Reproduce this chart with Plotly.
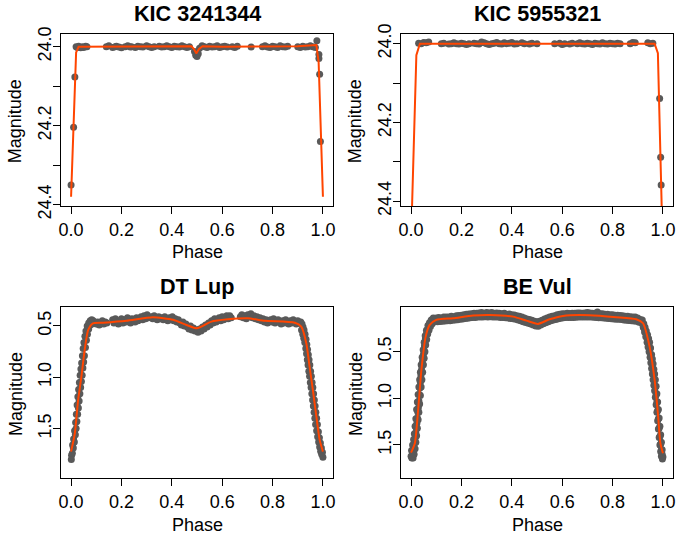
import plotly.graph_objects as go

FONT = "Liberation Sans, Arial, Helvetica, sans-serif"
PT_COLOR = "#595959"
FIT_COLOR = "#FF4500"
W, H = 678, 538

titles = ["KIC 3241344", "KIC 5955321", "DT Lup", "BE Vul"]
x_ticks = [0.0, 0.2, 0.4, 0.6, 0.8, 1.0]
x_ticktext = ["0.0", "0.2", "0.4", "0.6", "0.8", "1.0"]

# ---------------- KIC 3241344 ----------------
kic1_phase = [0.000, 0.010, 0.015, 0.020, 0.025, 0.030, 0.038, 0.045, 0.050, 0.058, 0.063,
              0.140, 0.150, 0.165, 0.175, 0.180, 0.190, 0.200, 0.215, 0.225, 0.235,
              0.240, 0.255, 0.265, 0.275, 0.285, 0.300, 0.310, 0.320, 0.330, 0.350,
              0.360, 0.370, 0.380, 0.390, 0.400, 0.410, 0.420, 0.430, 0.440, 0.450,
              0.460, 0.470,
              0.490, 0.495, 0.500, 0.505, 0.510,
              0.520, 0.530, 0.540, 0.550, 0.560, 0.570, 0.580, 0.590, 0.600, 0.610,
              0.620, 0.640, 0.650, 0.660,
              0.715,
              0.760, 0.770, 0.780, 0.790, 0.800, 0.810, 0.820, 0.830, 0.840, 0.850, 0.860,
              0.900, 0.910, 0.920, 0.930, 0.940, 0.950, 0.960, 0.970,
              0.976, 0.984, 0.984, 0.987, 0.990]
kic1_mag = [24.350, 24.204, 24.077, 24.000, 24.002, 23.999, 24.003, 24.000, 24.002, 23.999, 24.000,
            24.000, 23.998, 24.002, 24.000, 23.999, 24.001, 24.003, 24.000, 23.998, 24.001,
            24.000, 24.002, 23.999, 24.000, 24.001, 23.998, 24.000, 24.002, 24.000, 23.999,
            24.001, 24.000, 23.998, 24.000, 24.002, 23.999, 24.000, 24.001, 23.998, 24.000,
            24.002, 24.000,
            24.012, 24.022, 24.025, 24.018, 24.004,
            23.998, 24.000, 24.002, 23.999, 24.001, 24.000, 23.998, 24.002, 24.000, 23.999,
            24.001, 24.000, 24.002, 23.999,
            24.001,
            24.000, 23.998, 24.001, 24.002, 23.999, 24.000, 24.002, 23.998, 24.000, 24.001, 23.999,
            24.000, 24.002, 23.999, 24.001, 24.000, 23.998, 24.000, 24.002,
            23.985, 24.020, 24.030, 24.070, 24.240]
kic1_fit_phase = [0.000, 0.020, 0.030, 0.100, 0.200, 0.300, 0.400, 0.478, 0.488, 0.497,
                  0.508, 0.522, 0.600, 0.700, 0.800, 0.900, 0.974, 0.983, 1.000]
kic1_fit_mag = [24.380, 24.015, 24.000, 24.000, 24.000, 24.000, 23.999, 23.999, 24.006, 24.017,
                24.006, 23.999, 24.000, 24.000, 24.000, 23.999, 23.996, 24.040, 24.380]

# ---------------- KIC 5955321 ----------------
kic2_phase = [0.030, 0.040, 0.050, 0.060, 0.070,
              0.120, 0.130, 0.150, 0.160, 0.170, 0.180, 0.190, 0.200, 0.210, 0.220,
              0.230, 0.250, 0.260, 0.270, 0.280, 0.290, 0.300, 0.310, 0.320, 0.330,
              0.340, 0.350, 0.360, 0.370, 0.380, 0.390, 0.400, 0.410, 0.420, 0.440,
              0.450, 0.470, 0.480, 0.500,
              0.570, 0.590, 0.600, 0.610, 0.630, 0.640, 0.660, 0.670, 0.680, 0.690,
              0.700, 0.710, 0.720, 0.730, 0.740, 0.750, 0.760, 0.770, 0.780, 0.790,
              0.800, 0.810, 0.820, 0.830,
              0.870, 0.880, 0.890,
              0.940, 0.950, 0.960,
              0.987, 0.991, 0.993]
kic2_mag = [23.999, 24.000, 23.997, 23.998, 23.996,
            24.000, 23.999, 24.001, 24.000, 23.998, 24.000, 24.001, 23.999, 24.000, 24.002,
            24.000, 23.999, 24.000, 24.001, 23.996, 23.998, 24.000, 24.002, 24.000, 23.999,
            23.997, 24.000, 24.001, 23.998, 24.000, 23.999, 23.997, 24.001, 24.000, 23.998,
            24.000, 24.001, 23.999, 24.000,
            24.000, 23.999, 24.002, 24.000, 24.001, 23.999, 24.000, 23.998, 24.000, 24.001,
            23.999, 24.000, 24.002, 23.999, 24.000, 24.001, 23.998, 24.000, 24.001, 23.999,
            24.000, 24.001, 23.999, 24.000,
            24.000, 23.997, 23.998,
            23.998, 24.000, 23.999,
            24.139, 24.288, 24.359]
kic2_fit_phase = [0.000, 0.021, 0.035, 0.200, 0.500, 0.800, 0.967, 0.980, 1.000]
kic2_fit_mag = [24.500, 24.029, 24.000, 24.000, 24.000, 24.000, 24.000, 24.024, 24.540]

# ---------------- DT Lup ----------------
dt_ing_a_phase = [0.002, 0.006, 0.010, 0.014, 0.018, 0.021, 0.024, 0.027, 0.030, 0.033,
                  0.036, 0.039, 0.042, 0.045, 0.048, 0.051, 0.055, 0.059, 0.064, 0.070,
                  0.076, 0.082]
dt_ing_a_mag = [1.76, 1.66, 1.60, 1.52, 1.44, 1.36, 1.27, 1.19, 1.12, 1.05,
                0.98, 0.92, 0.86, 0.79, 0.72, 0.66, 0.60, 0.55, 0.50, 0.47,
                0.45, 0.44]
dt_ing_b_phase = [0.001, 0.005, 0.009, 0.013, 0.017, 0.020, 0.023, 0.026, 0.029, 0.032,
                  0.035, 0.038, 0.041, 0.044, 0.047, 0.050, 0.053, 0.057, 0.061, 0.065,
                  0.070, 0.076, 0.083]
dt_ing_b_mag = [1.80, 1.74, 1.69, 1.63, 1.56, 1.50, 1.43, 1.36, 1.30, 1.23,
                1.16, 1.10, 1.04, 0.98, 0.91, 0.85, 0.79, 0.71, 0.64, 0.58,
                0.53, 0.49, 0.48]
dt_flat_phase = [0.088, 0.094, 0.100, 0.106, 0.112, 0.118, 0.124, 0.130, 0.136, 0.142,
                 0.165, 0.170, 0.176, 0.182, 0.188, 0.194, 0.200, 0.206, 0.212, 0.218,
                 0.224, 0.230, 0.236, 0.242, 0.248, 0.254, 0.260, 0.266, 0.272, 0.278,
                 0.284, 0.290, 0.296, 0.302, 0.306, 0.318, 0.324, 0.330, 0.336, 0.342,
                 0.348, 0.354, 0.360, 0.366, 0.372, 0.378, 0.384, 0.390, 0.396, 0.402,
                 0.408, 0.414, 0.420, 0.426, 0.432, 0.438, 0.444, 0.450, 0.456, 0.462,
                 0.468, 0.474, 0.480, 0.486, 0.492, 0.498, 0.504, 0.510, 0.516, 0.522,
                 0.528, 0.534, 0.540, 0.546, 0.552, 0.558, 0.564, 0.570, 0.576, 0.582,
                 0.588, 0.594, 0.600, 0.606, 0.612, 0.618, 0.624, 0.630, 0.636, 0.672,
                 0.678, 0.684, 0.690, 0.696, 0.702, 0.708, 0.714, 0.720, 0.726, 0.732,
                 0.738, 0.744, 0.750, 0.756, 0.762, 0.768, 0.774, 0.780, 0.786, 0.792,
                 0.798, 0.804, 0.810, 0.816, 0.822, 0.828, 0.834, 0.840, 0.846, 0.852,
                 0.858, 0.864, 0.870, 0.876, 0.882, 0.888, 0.894, 0.900, 0.906]
dt_flat_mag = [0.45, 0.47, 0.48, 0.46, 0.49, 0.47, 0.45, 0.48, 0.46, 0.47,
               0.44, 0.47, 0.43, 0.46, 0.48, 0.45, 0.43, 0.47, 0.44, 0.46,
               0.42, 0.45, 0.47, 0.43, 0.44, 0.46, 0.42, 0.45, 0.43, 0.41,
               0.44, 0.40, 0.43, 0.39, 0.42, 0.41, 0.43, 0.40, 0.42, 0.44,
               0.41, 0.43, 0.42, 0.44, 0.41, 0.43, 0.45, 0.42, 0.44, 0.41,
               0.45, 0.43, 0.46, 0.44, 0.47, 0.49, 0.46, 0.50, 0.48, 0.51,
               0.53, 0.50, 0.54, 0.52, 0.55, 0.54, 0.56, 0.53, 0.55, 0.51,
               0.53, 0.49, 0.51, 0.47, 0.49, 0.45, 0.47, 0.43, 0.46, 0.44,
               0.42, 0.45, 0.41, 0.44, 0.42, 0.40, 0.43, 0.40, 0.42, 0.41,
               0.39, 0.42, 0.40, 0.43, 0.39, 0.41, 0.38, 0.42, 0.40, 0.43,
               0.41, 0.44, 0.42, 0.45, 0.43, 0.46, 0.44, 0.47, 0.45, 0.44,
               0.46, 0.43, 0.47, 0.45, 0.44, 0.46, 0.48, 0.45, 0.47, 0.44,
               0.46, 0.48, 0.45, 0.47, 0.44, 0.46, 0.48, 0.45, 0.47]
dt_egr_a_phase = [0.912, 0.917, 0.921, 0.925, 0.929, 0.933, 0.936, 0.939, 0.942, 0.945,
                  0.948, 0.951, 0.954, 0.957, 0.960, 0.963, 0.966, 0.969, 0.972, 0.975,
                  0.978, 0.982, 0.986, 0.990, 0.994, 0.998]
dt_egr_a_mag = [0.46, 0.48, 0.51, 0.54, 0.58, 0.63, 0.68, 0.73, 0.78, 0.83,
                0.88, 0.94, 0.99, 1.05, 1.10, 1.16, 1.22, 1.28, 1.34, 1.40,
                1.46, 1.53, 1.59, 1.64, 1.69, 1.73]
dt_egr_b_phase = [0.915, 0.920, 0.924, 0.928, 0.932, 0.935, 0.938, 0.941, 0.944, 0.947,
                  0.950, 0.953, 0.956, 0.959, 0.962, 0.965, 0.968, 0.971, 0.975, 0.979,
                  0.983, 0.987, 0.991, 0.995, 1.000]
dt_egr_b_mag = [0.54, 0.58, 0.62, 0.66, 0.72, 0.77, 0.83, 0.88, 0.94, 0.99,
                1.05, 1.10, 1.16, 1.22, 1.28, 1.34, 1.40, 1.46, 1.52, 1.58,
                1.63, 1.68, 1.72, 1.75, 1.78]
dt_fit_phase = [0.000, 0.015, 0.028, 0.041, 0.054, 0.068, 0.087, 0.127, 0.220, 0.325,
                0.405, 0.458, 0.498, 0.517, 0.557, 0.623, 0.702, 0.769, 0.888, 0.914,
                0.934, 0.947, 0.960, 0.974, 0.987, 1.000]
dt_fit_mag = [1.724, 1.545, 1.220, 0.994, 0.734, 0.539, 0.474, 0.468, 0.449, 0.415,
              0.440, 0.490, 0.523, 0.507, 0.458, 0.435, 0.425, 0.449, 0.468, 0.507,
              0.669, 0.896, 1.123, 1.383, 1.610, 1.724]

# ---------------- BE Vul ----------------
be_ing_a_phase = [0.000, 0.003, 0.006, 0.009, 0.012, 0.015, 0.017, 0.019, 0.021, 0.023,
                  0.025, 0.027, 0.029, 0.031, 0.033, 0.035, 0.037, 0.039, 0.041, 0.043,
                  0.045, 0.047, 0.049, 0.051, 0.053, 0.055, 0.057, 0.060, 0.063, 0.066,
                  0.070, 0.075, 0.080, 0.086, 0.092]
be_ing_a_mag = [1.62, 1.64, 1.60, 1.57, 1.54, 1.48, 1.42, 1.37, 1.32, 1.27,
                1.21, 1.15, 1.10, 1.03, 0.96, 0.89, 0.83, 0.76, 0.70, 0.66,
                0.61, 0.57, 0.53, 0.49, 0.44, 0.40, 0.36, 0.32, 0.29, 0.26,
                0.23, 0.21, 0.19, 0.17, 0.16]
be_ing_b_phase = [0.002, 0.006, 0.010, 0.013, 0.016, 0.019, 0.022, 0.025, 0.028, 0.031,
                  0.034, 0.037, 0.040, 0.044, 0.048, 0.052, 0.056, 0.061, 0.067, 0.073,
                  0.080, 0.088]
be_ing_b_mag = [1.56, 1.50, 1.44, 1.38, 1.30, 1.22, 1.12, 1.04, 0.96, 0.88,
                0.80, 0.72, 0.64, 0.56, 0.48, 0.40, 0.33, 0.27, 0.22, 0.19,
                0.16, 0.14]
be_ing_c_phase = [0.008, 0.012, 0.016, 0.019, 0.022, 0.025, 0.028, 0.031, 0.034, 0.037,
                  0.040, 0.043, 0.046, 0.049, 0.052, 0.055, 0.058, 0.062, 0.066, 0.071,
                  0.077, 0.084, 0.092]
be_ing_c_mag = [1.64, 1.60, 1.54, 1.47, 1.40, 1.32, 1.23, 1.15, 1.06, 0.97,
                0.88, 0.80, 0.72, 0.64, 0.57, 0.50, 0.43, 0.37, 0.31, 0.27,
                0.23, 0.20, 0.18]
be_top_phase = [0.10, 0.11, 0.12, 0.13, 0.14, 0.15, 0.16, 0.17, 0.18, 0.19,
                0.20, 0.21, 0.22, 0.23, 0.24, 0.25, 0.26, 0.27, 0.28, 0.29,
                0.30, 0.31, 0.32, 0.33, 0.34, 0.35, 0.36, 0.37, 0.38, 0.39,
                0.40, 0.41, 0.42, 0.43, 0.44, 0.45, 0.46, 0.47, 0.48, 0.49,
                0.50, 0.51, 0.52, 0.53, 0.54, 0.55, 0.56, 0.57, 0.58, 0.59,
                0.60, 0.61, 0.62, 0.63, 0.64, 0.65, 0.66, 0.67, 0.68, 0.69,
                0.70, 0.71, 0.72, 0.73, 0.74, 0.75, 0.76, 0.77, 0.78, 0.79,
                0.80, 0.81, 0.82, 0.83, 0.84, 0.85, 0.86, 0.87, 0.88, 0.89,
                0.90, 0.91]
be_top_mag = [0.140, 0.135, 0.140, 0.130, 0.128, 0.130, 0.120, 0.125, 0.115, 0.112,
              0.110, 0.105, 0.100, 0.098, 0.095, 0.090, 0.090, 0.085, 0.080, 0.088,
              0.080, 0.085, 0.082, 0.090, 0.085, 0.090, 0.095, 0.090, 0.100, 0.098,
              0.105, 0.108, 0.115, 0.120, 0.130, 0.140, 0.150, 0.155, 0.165, 0.175,
              0.180, 0.175, 0.165, 0.150, 0.140, 0.130, 0.120, 0.115, 0.105, 0.100,
              0.095, 0.095, 0.090, 0.092, 0.088, 0.090, 0.087, 0.085, 0.090, 0.085,
              0.080, 0.087, 0.090, 0.088, 0.075, 0.095, 0.095, 0.100, 0.100, 0.105,
              0.105, 0.110, 0.110, 0.112, 0.115, 0.120, 0.120, 0.125, 0.128, 0.130,
              0.140, 0.155]
be_bot_phase = [0.105, 0.115, 0.125, 0.135, 0.145, 0.155, 0.165, 0.175, 0.185, 0.195,
                0.205, 0.215, 0.225, 0.235, 0.245, 0.255, 0.265, 0.275, 0.285, 0.295,
                0.305, 0.315, 0.325, 0.335, 0.345, 0.355, 0.365, 0.375, 0.385, 0.395,
                0.405, 0.415, 0.425, 0.435, 0.445, 0.455, 0.465, 0.475, 0.485, 0.495,
                0.505, 0.515, 0.525, 0.535, 0.545, 0.555, 0.565, 0.575, 0.585, 0.595,
                0.605, 0.615, 0.625, 0.635, 0.645, 0.655, 0.665, 0.675, 0.685, 0.695,
                0.705, 0.715, 0.725, 0.735, 0.745, 0.755, 0.765, 0.775, 0.785, 0.795,
                0.805, 0.815, 0.825, 0.835, 0.845, 0.855, 0.865, 0.875, 0.885, 0.895,
                0.905]
be_bot_mag = [0.180, 0.178, 0.175, 0.172, 0.170, 0.168, 0.165, 0.160, 0.158, 0.152,
              0.150, 0.145, 0.142, 0.138, 0.135, 0.133, 0.130, 0.130, 0.128, 0.127,
              0.128, 0.126, 0.128, 0.130, 0.130, 0.133, 0.135, 0.138, 0.140, 0.145,
              0.147, 0.152, 0.160, 0.170, 0.180, 0.188, 0.195, 0.205, 0.215, 0.225,
              0.228, 0.215, 0.200, 0.190, 0.180, 0.170, 0.162, 0.155, 0.148, 0.142,
              0.138, 0.135, 0.135, 0.133, 0.133, 0.132, 0.130, 0.130, 0.130, 0.130,
              0.130, 0.130, 0.132, 0.134, 0.136, 0.138, 0.140, 0.142, 0.145, 0.147,
              0.150, 0.152, 0.154, 0.157, 0.160, 0.163, 0.166, 0.168, 0.172, 0.175,
              0.185]
be_egr_a_phase = [0.915, 0.920, 0.925, 0.930, 0.935, 0.940, 0.944, 0.948, 0.952, 0.955,
                  0.958, 0.961, 0.964, 0.967, 0.970, 0.973, 0.976, 0.979, 0.982, 0.985,
                  0.988, 0.991, 0.994, 0.997, 1.000]
be_egr_a_mag = [0.19, 0.21, 0.25, 0.29, 0.33, 0.38, 0.42, 0.47, 0.54, 0.60,
                0.65, 0.70, 0.75, 0.80, 0.88, 0.96, 1.04, 1.13, 1.22, 1.32,
                1.41, 1.49, 1.55, 1.60, 1.63]
be_egr_b_phase = [0.918, 0.924, 0.929, 0.934, 0.939, 0.943, 0.947, 0.951, 0.955, 0.958,
                  0.961, 0.964, 0.967, 0.970, 0.973, 0.976, 0.979, 0.982, 0.985, 0.988,
                  0.991, 0.994, 0.997]
be_egr_b_mag = [0.16, 0.20, 0.24, 0.28, 0.32, 0.36, 0.40, 0.46, 0.53, 0.58,
                0.63, 0.69, 0.74, 0.80, 0.87, 0.95, 1.04, 1.12, 1.21, 1.30,
                1.39, 1.47, 1.55]
be_egr_c_phase = [0.922, 0.927, 0.932, 0.937, 0.941, 0.945, 0.949, 0.952, 0.955, 0.958,
                  0.961, 0.964, 0.967, 0.970, 0.973, 0.976, 0.979, 0.982, 0.985, 0.988,
                  0.991, 0.994, 0.998]
be_egr_c_mag = [0.24, 0.29, 0.34, 0.40, 0.45, 0.50, 0.56, 0.62, 0.68, 0.74,
                0.80, 0.86, 0.92, 0.99, 1.07, 1.15, 1.24, 1.33, 1.42, 1.50,
                1.57, 1.62, 1.65]
be_fit_phase = [0.000, 0.015, 0.028, 0.041, 0.058, 0.074, 0.100, 0.167, 0.246, 0.312,
                0.405, 0.458, 0.504, 0.550, 0.603, 0.709, 0.815, 0.894, 0.921, 0.947,
                0.967, 0.980, 0.990, 1.000]
be_fit_mag = [1.582, 1.482, 1.125, 0.696, 0.339, 0.214, 0.160, 0.142, 0.114, 0.107,
              0.125, 0.168, 0.203, 0.153, 0.117, 0.110, 0.131, 0.153, 0.196, 0.446,
              0.803, 1.160, 1.482, 1.589]

# y-axis settings per panel
y_ranges = [[24.4034, 23.968], [24.412, 23.9755], [1.984, 0.318], [1.857, 0.025]]
y_tickvals = [[24.0, 24.1, 24.2, 24.3, 24.4], [24.0, 24.1, 24.2, 24.3, 24.4],
              [0.5, 1.0, 1.5], [0.5, 1.0, 1.5]]
y_ticktext = [["24.0", "", "24.2", "", "24.4"], ["24.0", "", "24.2", "", "24.4"],
              ["0.5", "1.0", "1.5"], ["0.5", "1.0", "1.5"]]

points = [
    (kic1_phase, kic1_mag),
    (kic2_phase, kic2_mag),
    (dt_ing_a_phase + dt_ing_b_phase + dt_flat_phase + dt_egr_a_phase + dt_egr_b_phase,
     dt_ing_a_mag + dt_ing_b_mag + dt_flat_mag + dt_egr_a_mag + dt_egr_b_mag),
    (be_ing_a_phase + be_ing_b_phase + be_ing_c_phase + be_top_phase + be_bot_phase
     + be_egr_a_phase + be_egr_b_phase + be_egr_c_phase,
     be_ing_a_mag + be_ing_b_mag + be_ing_c_mag + be_top_mag + be_bot_mag
     + be_egr_a_mag + be_egr_b_mag + be_egr_c_mag),
]
fits = [
    (kic1_fit_phase, kic1_fit_mag, "linear"),
    (kic2_fit_phase, kic2_fit_mag, "linear"),
    (dt_fit_phase, dt_fit_mag, "spline"),
    (be_fit_phase, be_fit_mag, "spline"),
]

# panel boxes in pixels: (left, right, top, bottom)
boxes = [(61, 333, 34, 206), (401, 673, 34, 206), (61, 333, 307.3, 478.3), (401, 673, 307.3, 478.3)]

fig = go.Figure()
annotations = []
for i in range(4):
    sfx = "" if i == 0 else str(i + 1)
    xa, ya = "x" + sfx, "y" + sfx
    px, pm = points[i]
    fig.add_trace(go.Scatter(x=px, y=pm, mode="markers", xaxis=xa, yaxis=ya,
                             marker=dict(color=PT_COLOR, size=7, line=dict(width=0)),
                             showlegend=False, hoverinfo="skip"))
    fx, fm, shape = fits[i]
    fig.add_trace(go.Scatter(x=fx, y=fm, mode="lines", xaxis=xa, yaxis=ya,
                             line=dict(color=FIT_COLOR, width=2, shape=shape,
                                       smoothing=0.6 if shape == "spline" else None),
                             showlegend=False, hoverinfo="skip"))
    l, r, t, b = boxes[i]
    axis_common = dict(showline=True, mirror=True, linecolor="black", linewidth=1,
                       ticks="outside", ticklen=7, tickwidth=1, tickcolor="black",
                       showgrid=False, zeroline=False, automargin=False,
                       ticklabeloverflow="allow",
                       tickfont=dict(family=FONT, size=18, color="black"))
    fig.update_layout(**{
        "xaxis" + sfx: dict(domain=[l / W, r / W], anchor=ya, range=[-0.04, 1.04],
                            tickvals=x_ticks, ticktext=x_ticktext, **axis_common),
        "yaxis" + sfx: dict(domain=[1 - b / H, 1 - t / H], anchor=xa, range=y_ranges[i],
                            tickvals=y_tickvals[i], ticktext=y_ticktext[i], tickangle=-90,
                            ticklabelstandoff=-5, **axis_common),
    })
    cx = (l + r) / 2
    annotations.append(dict(text="<b>" + titles[i] + "</b>", x=cx / W, y=1 - (t - 20.5) / H,
                            xref="paper", yref="paper", xanchor="center", yanchor="middle",
                            showarrow=False, font=dict(family=FONT, size=21.6, color="black")))
    annotations.append(dict(text="Phase", x=cx / W, y=1 - (b + 46.5) / H,
                            xref="paper", yref="paper", xanchor="center", yanchor="middle",
                            showarrow=False, font=dict(family=FONT, size=18, color="black")))
    annotations.append(dict(text="Magnitude", x=(l - 45.2) / W, y=1 - ((t + b) / 2 + 1.5) / H,
                            xref="paper", yref="paper", xanchor="center", yanchor="middle",
                            textangle=-90, showarrow=False,
                            font=dict(family=FONT, size=18, color="black")))

fig.update_layout(width=W, height=H, margin=dict(l=0, r=0, t=0, b=0, autoexpand=False),
                  paper_bgcolor="white", plot_bgcolor="white",
                  annotations=annotations, font=dict(family=FONT, color="black"))
fig.write_html("out.html", config={"displayModeBar": False},
               post_script="document.body.style.margin='0px';document.body.style.overflow='hidden';")
